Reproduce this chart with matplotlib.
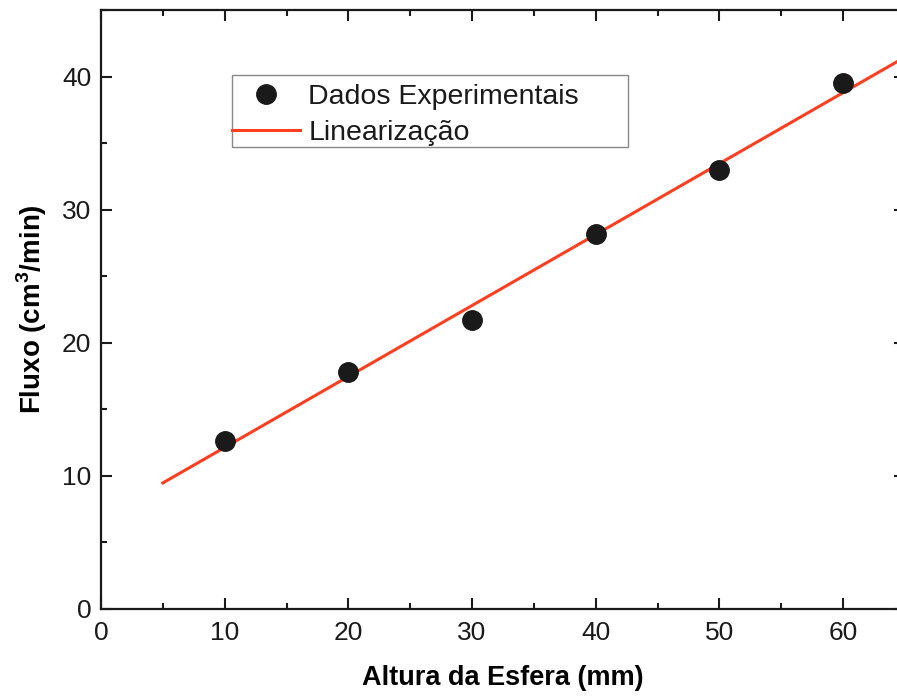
import numpy as np
import matplotlib
matplotlib.use("Agg")
import matplotlib.pyplot as plt
from matplotlib.patches import Rectangle
from matplotlib.ticker import MultipleLocator

# data
altura = [10, 20, 30, 40, 50, 60]          # mm
fluxo = [12.6, 17.8, 21.7, 28.2, 33.0, 39.5]  # cm^3/min
fit_range = [5, 66]

plt.rcParams["font.family"] = ["Liberation Sans", "DejaVu Sans"]
plt.rcParams["mathtext.fontset"] = "custom"
plt.rcParams["mathtext.bf"] = "Liberation Sans:bold"
plt.rcParams["mathtext.rm"] = "Liberation Sans:bold"

slope, intercept = np.polyfit(altura, fluxo, 1)
xf = np.array(fit_range, dtype=float)

fig = plt.figure(figsize=(8.97, 7.0), dpi=100)
ax = fig.add_axes([101 / 897, 1 - 609 / 700, (905 - 101) / 897, (609 - 10) / 700])

ax.plot(altura, fluxo, "o", color="#1a1a1a", markersize=14, label="Dados Experimentais", zorder=3)
ax.plot(xf, slope * xf + intercept, color="#ff3f1f", lw=2.2, label="Linearização", zorder=2)

ax.set_xlim(0, 65)
ax.set_ylim(0, 45)
ax.xaxis.set_major_locator(MultipleLocator(10))
ax.xaxis.set_minor_locator(MultipleLocator(5))
ax.yaxis.set_major_locator(MultipleLocator(10))
ax.yaxis.set_minor_locator(MultipleLocator(5))
ax.set_yticks([0, 10, 20, 30, 40])
ax.tick_params(which="both", direction="in", top=True, right=True, width=1.5,
               labelsize=19, colors="#1a1a1a")
ax.tick_params(which="major", length=8)
ax.tick_params(axis="x", which="major", pad=9)
ax.tick_params(axis="y", which="major", pad=7)
ax.tick_params(which="minor", length=4.5)
for s in ax.spines.values():
    s.set_linewidth(1.6)
    s.set_color("#1a1a1a")

ax.set_xlabel("Altura da Esfera (mm)", fontsize=19.5, fontweight="bold", labelpad=14)
ax.set_ylabel(r"Fluxo (cm$^{\mathbf{3}}$/min)", fontsize=20, fontweight="bold", labelpad=9)

# legend without its own frame; the box is drawn separately to match its wider shape
leg = ax.legend(loc="upper left", bbox_to_anchor=(0.163, 0.877), borderaxespad=0,
                fontsize=20.5, frameon=False, handlelength=2.4, handletextpad=0.28,
                borderpad=0, labelspacing=0.37)
for t in leg.get_texts():
    t.set_color("#1a1a1a")
ax.add_patch(Rectangle((0.163, 0.7713), 0.4925, 0.1202, transform=ax.transAxes,
                       fill=False, edgecolor="#888888", linewidth=1.0, zorder=4))

fig.savefig("out.png", dpi=100)
